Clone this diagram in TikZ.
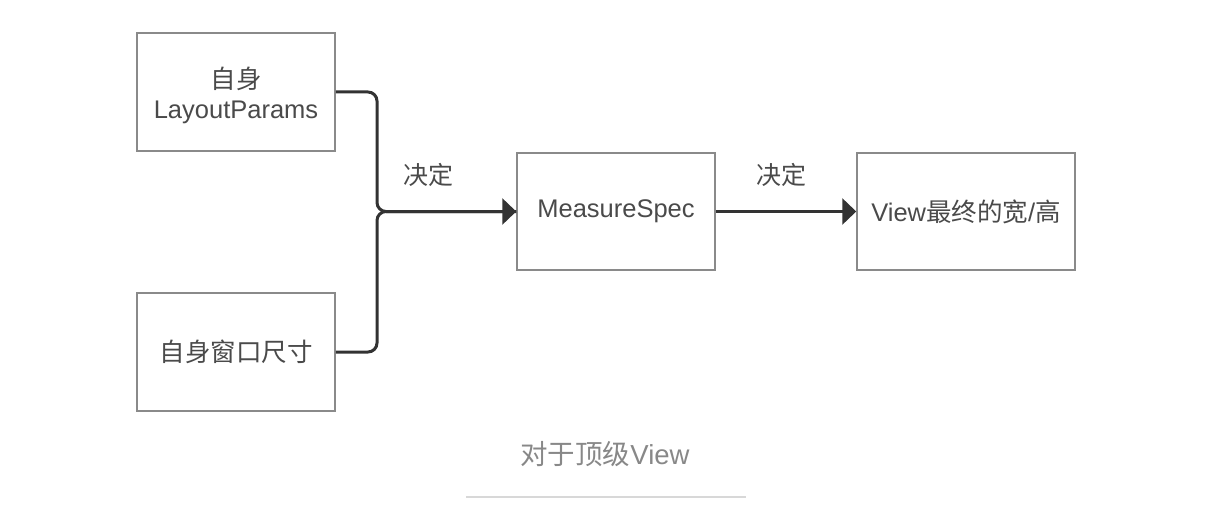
\documentclass[tikz,border=0pt]{standalone}
\usepackage{fontspec}
\setmainfont{Liberation Sans}
\newfontfamily\cjk{Noto Sans CJK SC}
\usetikzlibrary{arrows.meta}
\definecolor{boxline}{HTML}{8A8A8A}
\definecolor{txt}{HTML}{4A4A4A}
\definecolor{conn}{HTML}{333333}
\definecolor{cap}{HTML}{888888}
\definecolor{rule}{HTML}{D8D8D8}
\tikzset{
  box/.style={draw=boxline, line width=1.5pt, fill=white, text=txt, align=center,
    font=\fontsize{25.5}{30}\selectfont, inner sep=0pt},
  conn/.style={draw=conn, line width=3pt, rounded corners=9pt},
  arr/.style={-{Triangle[length=14pt,width=26pt]}},
  lbl/.style={text=txt, font=\fontsize{25}{30}\selectfont\cjk},
}
\begin{document}
\begin{tikzpicture}[x=1pt,y=-1pt]
\useasboundingbox (0,0) rectangle (1210,524);
\node[box, minimum width=198pt, minimum height=118pt] (b1) at (236,92) {};
\node[box, text=txt, align=center, font=\fontsize{25.5}{30}\selectfont, draw=none, fill=none] (t1) at (236,95) {{\cjk 自身}\\LayoutParams};
\node[box, minimum width=198pt, minimum height=118pt] (b2) at (236,352) {\cjk 自身窗口尺寸};
\node[box, minimum width=198pt, minimum height=117pt] (b3) at (616,211.5) {MeasureSpec};
\node[box, minimum width=218pt, minimum height=117pt] (b4) at (966,211.5) {View{\cjk 最终的宽}/{\cjk 高}};
\coordinate (j) at (377,211.5);
\draw[conn] (b1.east) -| (j) -- (b3.west);
\draw[conn, arr] (b2.east) -| (j) -- (b3.west);
\draw[conn, arr, rounded corners=0pt] (b3.east) -- (b4.west);
\node[lbl] (l1) at (428,175) {决定};
\node[lbl] (l2) at (781,175) {决定};
\node[text=cap, font=\fontsize{27.5}{32}\selectfont] (c) at (605,454) {{\cjk 对于顶级}View};
\draw[rule, line width=1.5pt] (466,497) -- (746,497);
\end{tikzpicture}
\end{document}
